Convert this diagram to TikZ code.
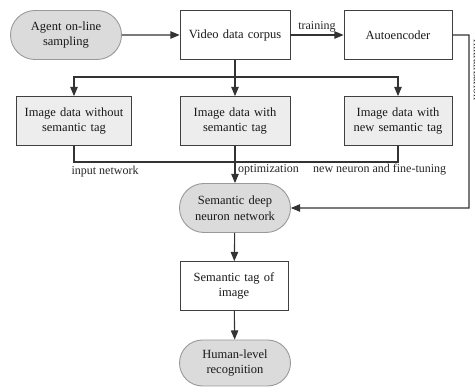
\documentclass[tikz,border=0pt]{standalone}
\usepackage{fontspec}
\setmainfont{Liberation Serif}
\usetikzlibrary{shapes,arrows,positioning}

\begin{document}
\begin{tikzpicture}[x=1pt,y=-1pt]
	\tikzstyle{Line}	= [draw=black!80, line width=1.1pt]
	\tikzstyle{Arrow}	= [Line, -triangle 45]
	\tikzstyle{Label}	= [text=black!85, inner sep=1pt, font=\fontsize{12}{14}\selectfont]
	\tikzstyle{Box}		= [rectangle, draw=black!75, line width=0.9pt, fill=white, text=black!90, text width=104pt, align=center, minimum width=110pt, minimum height=49pt, inner sep=2pt, font=\fontsize{12.5}{15.5}\selectfont]
	\tikzstyle{Data}	= [Box, fill=black!7]
	\tikzstyle{Term}	= [Box, rounded rectangle, fill=black!14, draw=black!40, text width=88pt, minimum width=115pt]

	\useasboundingbox (0,0) rectangle (475,387);

	\node (agent) at (66,35) [Term] {Agent on-line\\ sampling};
	\node (video) at (235,35) [Box] {Video data corpus};
	\node (auto) at (398,35) [Box, minimum width=107pt] {Autoencoder};

	\node (tagless) at (74,121) [Data, minimum width=115pt] {Image data without\\ semantic tag};
	\node (tagged) at (235,121) [Data] {Image data with\\ semantic tag};
	\node (newtag) at (398,121) [Data, minimum width=107pt] {Image data with\\ new semantic tag};

	\node (sdnn) at (235,208) [Term] {Semantic deep\\ neuron network};
	\node (result) at (234,286) [Box, minimum width=108pt] {Semantic tag of\\ image};
	\node (human) at (235,363) [Term, minimum height=46pt] {Human-level\\ recognition};

	\coordinate (split) at (235,77);
	\coordinate (merge) at (235,162);
	\coordinate (r1) at (469,35);
	\coordinate (r2) at (469,208);

	\draw [Arrow] (agent) -- (video);
	\draw [Arrow] (video) -- node [Label, above=1pt] {training} (auto);
	\draw [Arrow] (auto) -- (r1) -- (r2) -- (sdnn);
	\node (init) at (478,70) [Label, rotate=-90] {initialization};

	\draw [Arrow] (video) -- (tagged);
	\draw [Arrow] (split) -| (tagless);
	\draw [Arrow] (split) -| (newtag);

	\draw [Line] (tagless) |- (merge);
	\draw [Line] (newtag) |- (merge);
	\draw [Arrow] (tagged) -- (sdnn);
	\node (inlab) at (105,172) [Label] {input network};
	\node (optlab) at (237,170) [Label, anchor=west] {optimization};
	\node (newlab) at (312,170) [Label, anchor=west] {new neuron and fine-tuning};

	\draw [Arrow] (sdnn) -- (result);
	\draw [Arrow] (result) -- (human);
\end{tikzpicture}
\end{document}
